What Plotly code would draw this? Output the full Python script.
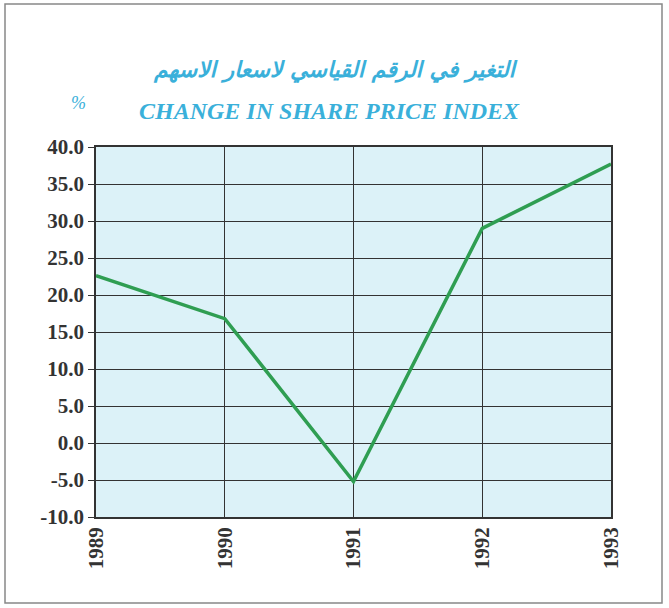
import plotly.graph_objects as go

years = ["1989", "1990", "1991", "1992", "1993"]
change_pct = [22.6, 16.8, -5.2, 29.0, 37.7]
y_ticks = [40, 35, 30, 25, 20, 15, 10, 5, 0, -5, -10]
y_tick_labels = ["40.0", "35.0", "30.0", "25.0", "20.0", "15.0", "10.0", "5.0", "0.0", "-5.0", "-10.0"]

W, H = 669, 608
L, R, T, B = 96, 58, 147, 91
pw, ph = W - L - R, H - T - B

def px(x):
    return (x - L) / pw

def py(y):
    return (H - B - y) / ph

fig = go.Figure()
fig.add_trace(go.Scatter(
    x=list(range(len(years))), y=change_pct, mode="lines",
    line=dict(color="#2f9e52", width=3.5), hoverinfo="skip", showlegend=False,
))

fig.update_layout(
    width=W, height=H,
    margin=dict(l=L, r=R, t=T, b=B, pad=0),
    paper_bgcolor="white",
    plot_bgcolor="#dcf2f8",
    xaxis=dict(
        range=[0, 4], tickmode="array", tickvals=list(range(len(years))), ticktext=years,
        tickangle=-90, showgrid=True, gridcolor="#333333", gridwidth=1,
        showline=True, linecolor="#333333", linewidth=1.5, mirror=True,
        ticks="", zeroline=False,
        tickfont=dict(family="Liberation Serif", size=21, color="#333333", weight="bold"),
    ),
    yaxis=dict(
        range=[-10, 40], tickmode="array", tickvals=y_ticks, ticktext=y_tick_labels,
        showgrid=True, gridcolor="#333333", gridwidth=1,
        showline=True, linecolor="#333333", linewidth=1.5, mirror=True,
        ticks="outside", ticklen=6, tickcolor="#333333", zeroline=False,
        tickfont=dict(family="Liberation Serif", size=21, color="#333333", weight="bold"),
    ),
    font=dict(family="Liberation Serif"),
)

annotations = [
    dict(text="<b><i>التغير في الرقم القياسي لاسعار الاسهم</i></b>", x=px(335), y=py(70),
         font=dict(family="DejaVu Sans", size=22, color="#3ab0da")),
    dict(text="<b><i>CHANGE IN SHARE PRICE INDEX</i></b>", x=px(329), y=py(111),
         font=dict(family="Liberation Serif", size=24, color="#3ab0da")),
    dict(text="<i>%</i>", x=px(78), y=py(103),
         font=dict(family="Liberation Serif", size=18, color="#3ab0da")),
]
for a in annotations:
    a.update(xref="paper", yref="paper", showarrow=False, xanchor="center", yanchor="middle")
fig.update_layout(annotations=annotations)

fig.add_shape(type="rect", xref="paper", yref="paper",
              x0=px(5), x1=px(662), y0=py(603), y1=py(4),
              line=dict(color="#888888", width=1.5), fillcolor="rgba(0,0,0,0)", layer="below")

fig.write_html("out.html", config={"displayModeBar": False},
               post_script="document.body.style.margin='0';")
